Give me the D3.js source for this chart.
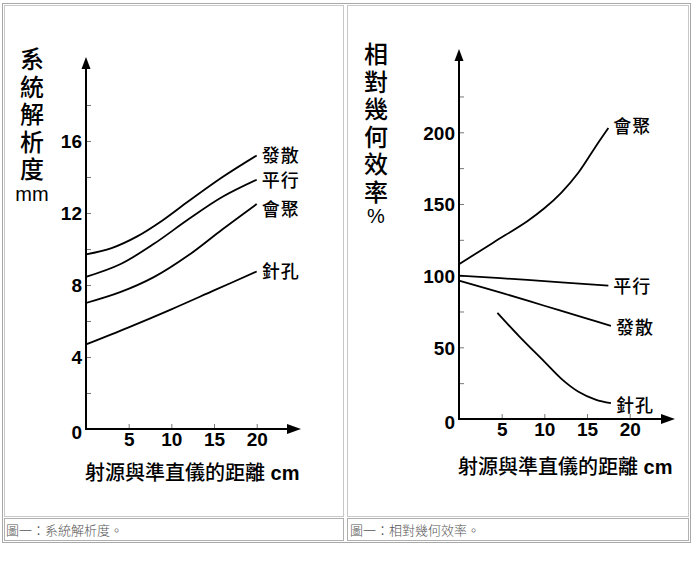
<!DOCTYPE html>
<html><head><meta charset="utf-8">
<script src="https://cdn.jsdelivr.net/npm/d3@7"></script>
<style>
html,body{margin:0;padding:0;background:#fff;}
svg{display:block;}
</style></head>
<body>
<svg id="c" width="692" height="564"></svg>
<script>
// ---------- DATA ----------
const xTicks = [5, 10, 15, 20];
const leftYLabels = [0, 4, 8, 12, 16];
const leftYMinor = [2, 6, 10, 14, 18];
const rightYLabels = [0, 50, 100, 150, 200];
const rightYMinor = [25, 75, 125, 175, 225];

const leftTitle = "系統解析度";
const leftUnit = "mm";
const rightTitle = "相對幾何效率";
const rightUnit = "%";
const xTitle = "射源與準直儀的距離 cm";
const leftCaption = "圖一：系統解析度。";
const rightCaption = "圖一：相對幾何效率。";

// 系統解析度 (mm) vs distance (cm)
const resDivergent = [[0, 9.7], [3, 10.05], [6, 10.7], [9, 11.6], [12, 12.65], [16, 14.0], [20, 15.2]]; // 發散
const resParallel  = [[0, 8.45], [4, 9.15], [8, 10.3], [12, 11.65], [16, 12.9], [20, 13.85]];          // 平行
const resConverge  = [[0, 7.0], [4, 7.6], [8, 8.45], [12, 9.65], [16, 11.1], [20, 12.5]];              // 會聚
const resPinhole   = [[0, 4.7], [5, 5.65], [10, 6.65], [15, 7.7], [20, 8.75]];                         // 針孔

// 相對幾何效率 (%) vs distance (cm)
const effConverge  = [[0, 108], [4, 123], [8, 138], [10, 147], [12, 158], [14, 172], [16, 190], [17.5, 203]];
const effParallel  = [[0, 100], [8, 97], [17.5, 93]];
const effDivergent = [[0, 96.5], [5, 88], [10, 79], [15, 70], [17.8, 65]];
const effPinhole   = [[4.5, 74], [7, 58], [10, 40], [12, 28], [14, 19], [16, 13.5], [17.8, 11]];

const leftSeries = [
  {name: "發散", data: resDivergent, dy: 0},
  {name: "平行", data: resParallel, dy: 1},
  {name: "會聚", data: resConverge, dy: 6},
  {name: "針孔", data: resPinhole, dy: 0}
];
const rightSeries = [
  {name: "會聚", data: effConverge, dy: -1},
  {name: "平行", data: effParallel, dy: 1},
  {name: "發散", data: effDivergent, dy: 1.5},
  {name: "針孔", data: effPinhole, dy: 2}
];

// ---------- DRAW ----------
const svg = d3.select("#c");
const CJK = "'Noto Sans CJK TC','Noto Sans CJK SC',sans-serif";
const ARIAL = "'Liberation Sans',Arial,sans-serif";

// table frame
const frame = svg.append("g").attr("fill", "none");
frame.append("rect").attr("x", 2.5).attr("y", 3.5).attr("width", 688).attr("height", 539).attr("stroke", "#a8a8a8");
[[4.5, 339], [347.5, 341]].forEach(([x, w]) => {
  frame.append("rect").attr("x", x).attr("y", 5.5).attr("width", w).attr("height", 511).attr("stroke", "#c8c8c8");
  frame.append("rect").attr("x", x).attr("y", 518.5).attr("width", w).attr("height", 22).attr("stroke", "#b0b0b0");
});
svg.append("text").attr("x", 6).attr("y", 535).attr("font-family", CJK).attr("font-size", 13)
  .attr("font-weight", 300).attr("fill", "#555").text(leftCaption);
svg.append("text").attr("x", 350).attr("y", 535).attr("font-family", CJK).attr("font-size", 13)
  .attr("font-weight", 300).attr("fill", "#555").text(rightCaption);

function chart(opt) {
  const g = svg.append("g");
  const x = d3.scaleLinear().domain([0, 20]).range(opt.xr);
  const y = d3.scaleLinear().domain(opt.yd).range(opt.yr);
  const x0 = x(0), y0 = y(0);

  // y axis ticks (to the right of the axis) with labels on the left
  const yAx = g.append("g").attr("transform", `translate(${x0},0)`)
    .call(d3.axisLeft(y).tickValues(opt.yMinor.concat(opt.yLabels)).tickSize(-5).tickPadding(4)
      .tickFormat(d => opt.yLabels.includes(d) ? d : ""));
  yAx.select(".domain").remove();
  yAx.selectAll(".tick line").attr("stroke", "#777").attr("stroke-width", 1);
  yAx.selectAll(".tick text").attr("font-family", ARIAL).attr("font-size", 19).attr("font-weight", "bold")
    .attr("fill", "#000").attr("dy", d => d === 0 ? "0.5em" : "0.36em");

  // x axis ticks (upwards), labels below
  const xAx = g.append("g").attr("transform", `translate(0,${y0})`)
    .call(d3.axisBottom(x).tickValues(xTicks).tickSize(-5).tickPadding(5));
  xAx.select(".domain").remove();
  xAx.selectAll(".tick line").attr("stroke", "#777").attr("stroke-width", 1);
  xAx.selectAll(".tick text").attr("font-family", ARIAL).attr("font-size", 19).attr("font-weight", "bold")
    .attr("fill", "#000").attr("y", 0).attr("dy", 16.5);

  // axis lines with arrows
  g.append("line").attr("x1", x0).attr("y1", y0).attr("x2", x0).attr("y2", opt.yTop + 10)
    .attr("stroke", "#000").attr("stroke-width", 2);
  g.append("path").attr("d", `M${x0},${opt.yTop} L${x0 - 4.5},${opt.yTop + 12} L${x0 + 4.5},${opt.yTop + 12} Z`).attr("fill", "#000");
  g.append("line").attr("x1", x0 - 1).attr("y1", y0).attr("x2", opt.xEnd - 10).attr("y2", y0)
    .attr("stroke", "#000").attr("stroke-width", 2);
  g.append("path").attr("d", `M${opt.xEnd},${y0} L${opt.xEnd - 14},${y0 - 5} L${opt.xEnd - 14},${y0 + 5} Z`).attr("fill", "#000");

  // curves
  const line = d3.line().x(d => x(d[0])).y(d => y(d[1])).curve(d3.curveCatmullRom.alpha(0.5));
  opt.series.forEach(s => {
    g.append("path").attr("d", line(s.data)).attr("fill", "none").attr("stroke", "#000").attr("stroke-width", 1.8);
    const last = s.data[s.data.length - 1];
    g.append("text").attr("x", x(last[0]) + 5).attr("y", y(last[1]) + s.dy).attr("dy", "0.36em")
      .attr("font-family", CJK).attr("font-size", 18).attr("font-weight", 500).attr("letter-spacing", 1)
      .attr("fill", "#000").text(s.name);
  });

  // y title (vertical text)
  g.append("text").attr("x", opt.titleX).attr("y", opt.titleY)
    .style("writing-mode", "vertical-rl").style("text-orientation", "upright")
    .attr("font-family", CJK).attr("font-size", 24).attr("font-weight", 500).attr("letter-spacing", 3.5)
    .attr("fill", "#000").text(opt.title);
  g.append("text").attr("x", opt.titleX).attr("y", opt.unitY).attr("text-anchor", "middle")
    .attr("dy", "0.36em").attr("font-family", ARIAL).attr("font-size", 20).attr("fill", "#000").text(opt.unit);

  // x title
  g.append("text").attr("x", opt.xTitleX).attr("y", opt.xTitleY).attr("dy", "0.36em")
    .attr("font-family", CJK).attr("font-size", 20).attr("font-weight", 500).attr("fill", "#000")
    .call(t => {
      const parts = xTitle.split(" ");
      t.append("tspan").text(parts[0]);
      t.append("tspan").attr("font-family", ARIAL).attr("font-weight", "bold").text(" " + parts[1]);
    });
}

chart({
  xr: [86, 256.7], yd: [0, 16], yr: [429, 141], yTop: 57, xEnd: 301,
  yLabels: leftYLabels, yMinor: leftYMinor, series: leftSeries,
  title: leftTitle, unit: leftUnit, titleX: 32, titleY: 47, unitY: 194, xTitleX: 85, xTitleY: 473
});
chart({
  xr: [459, 629.7], yd: [0, 200], yr: [419, 132.3], yTop: 49, xEnd: 675,
  yLabels: rightYLabels, yMinor: rightYMinor, series: rightSeries,
  title: rightTitle, unit: rightUnit, titleX: 376, titleY: 42, unitY: 216, xTitleX: 458, xTitleY: 467
});
</script>
</body></html>
